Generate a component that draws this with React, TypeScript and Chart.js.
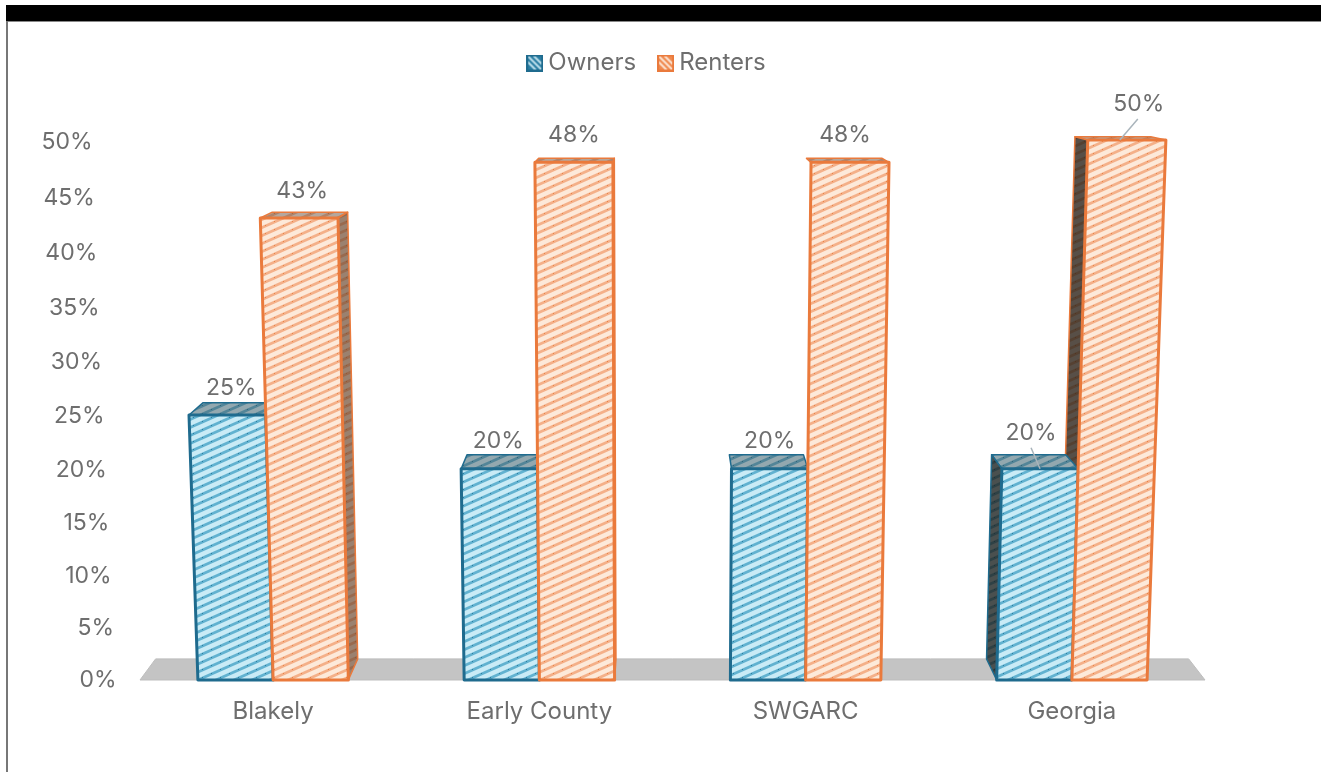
import React, { useEffect, useRef } from "react";
import { Chart, registerables } from "chart.js";

Chart.register(...registerables);

const categories = ["Blakely", "Early County", "SWGARC", "Georgia"];
const owners = [25, 20, 20, 20];
const renters = [43, 48, 48, 50];
const seriesNames = ["Owners", "Renters"];
const yTicks = [0, 5, 10, 15, 20, 25, 30, 35, 40, 45, 50];

const FONT = "Inter";
const TEXT = "#6e6e6e";
const OWNER_LINE = "#1f6b8e";
const RENTER_LINE = "#ea7a3c";
const FLOOR = "#c4c4c4";

// Label nudges from the top centre of each bar, [dx, dy]
const ownerNudge = [[4, -27], [-1, -28], [0, -28], [-9, -36]];
const renterNudge = [[3, -27], [0, -27], [-5, -27], [12, -36]];

function tile(bg: string, stripe: string, dot: string) {
  const w = 18, h = 8;
  const c = document.createElement("canvas");
  c.width = w; c.height = h;
  const g = c.getContext("2d")!;
  g.fillStyle = bg;
  g.fillRect(0, 0, w, h);
  g.strokeStyle = stripe;
  g.lineWidth = 2.8;
  for (let i = -1; i <= 1; i++) {
    g.beginPath();
    g.moveTo(-w, h * 2 + i * h);
    g.lineTo(w * 2, -h + i * h);
    g.stroke();
  }
  g.fillStyle = dot;
  g.fillRect(4, 5, 1, 1);
  g.fillRect(13, 1, 1, 1);
  return c;
}

function legendIcon(line: string, a: string, b: string) {
  const c = document.createElement("canvas");
  c.width = 17; c.height = 17;
  const g = c.getContext("2d")!;
  g.fillStyle = a;
  g.fillRect(0, 0, 17, 17);
  g.strokeStyle = b;
  g.lineWidth = 2;
  for (const o of [-6, 0, 6]) {
    g.beginPath();
    g.moveTo(o, 0);
    g.lineTo(17 + o, 17);
    g.stroke();
  }
  g.strokeStyle = line;
  g.lineWidth = 2;
  g.strokeRect(1, 1, 15, 15);
  return c;
}

const AREA = { left: 140, right: 1205, top: 140, bottom: 680 };
const VX = 660;

// Front-plane projection: the picture is a 3-D chart seen in perspective
function front(x: number, y: number): [number, number] {
  const t = (AREA.bottom - y) / (AREA.bottom - AREA.top);
  return [x + ((x - VX) * (AREA.bottom - y)) / 14000, y + 20 * t * (1 - t)];
}
function back(p: [number, number]): [number, number] {
  return [p[0] + (VX - p[0]) * 0.03, p[1] - (p[1] - 40) * 0.033];
}

function poly(ctx: CanvasRenderingContext2D, pts: [number, number][], fill: any, line: string, lw: number, shade?: string) {
  ctx.beginPath();
  pts.forEach((p, i) => (i ? ctx.lineTo(p[0], p[1]) : ctx.moveTo(p[0], p[1])));
  ctx.closePath();
  ctx.fillStyle = fill;
  ctx.fill();
  if (shade) {
    ctx.fillStyle = shade;
    ctx.fill();
  }
  ctx.lineJoin = "round";
  ctx.lineWidth = lw;
  ctx.strokeStyle = line;
  ctx.stroke();
}

const bars3d = {
  id: "bars3d",
  beforeLayout(chart: any) {
    const lg = chart.legend;
    if (lg.__patched) return;
    lg.__patched = true;
    const fit = lg.fit;
    lg.fit = function () {
      fit.call(this);
      this.height = 117;
    };
  },
  afterLayout(chart: any) {
    const lg = chart.legend;
    lg.left += 47;
    lg.right += 47;
  },
  beforeDraw(chart: any) {
    const { ctx } = chart;
    const y = chart.scales.y;
    // slanted value axis labels follow the 3-D wall
    for (const it of y.getLabelItems()) {
      if (it.__done) continue;
      it.__done = true;
      const py = it.options.translation[1];
      const t = (AREA.bottom - py) / (AREA.bottom - AREA.top);
      it.options.translation[0] = 116.5 - 24 * t;
      it.options.translation[1] = py + 20 * t * (1 - t) + t * 2.5;
    }
    // floor
    const a: [number, number] = [AREA.left, AREA.bottom];
    const b: [number, number] = [AREA.right, AREA.bottom];
    ctx.save();
    poly(ctx, [a, b, back(b), back(a)], FLOOR, "#bdbdbd", 1);
    ctx.restore();
  },
  beforeDatasetsDraw(chart: any) {
    const { ctx } = chart;
    const m0 = chart.getDatasetMeta(0).data;
    const m1 = chart.getDatasetMeta(1).data;
    const faces = (el: any) => {
      const p = el.getProps(["x", "y", "base", "width"], true);
      const l = p.x - p.width / 2, r = p.x + p.width / 2;
      const tl = front(l, p.y), tr = front(r, p.y), bl = front(l, p.base), br = front(r, p.base);
      return { tl, tr, bl, br, o: el.options };
    };
    const sides = (f: any) => {
      const { tl, tr, bl, br, o } = f;
      const line = o.borderColor;
      poly(ctx, [tl, tr, back(tr), back(tl)], o.backgroundColor, line, 1.5, "rgba(60,60,60,0.38)");
      if (tr[0] < VX) poly(ctx, [tr, br, back(br), back(tr)], o.backgroundColor, line, 1.5, "rgba(90,60,40,0.6)");
      if (tl[0] > VX + 300) poly(ctx, [tl, bl, back(bl), back(tl)], o.backgroundColor, line, 1.5, "rgba(30,25,20,0.74)");
    };
    const face = (f: any) => {
      const { tl, tr, bl, br, o } = f;
      poly(ctx, [tl, tr, br, bl], o.backgroundColor, o.borderColor, 3);
    };
    ctx.save();
    m0.forEach((el: any, i: number) => {
      const a = faces(el), b = faces(m1[i]);
      if (a.tl[0] < VX) {
        sides(a); face(a); sides(b); face(b);
      } else {
        sides(b); sides(a); face(a); face(b);
      }
    });
    ctx.restore();
  },
  beforeDatasetDraw() {
    return false;
  },
  afterDatasetsDraw(chart: any) {
    const { ctx } = chart;
    ctx.save();
    ctx.font = `23px ${FONT}`;
    ctx.fillStyle = TEXT;
    ctx.textAlign = "center";
    ctx.textBaseline = "middle";
    chart.data.datasets.forEach((ds: any, d: number) => {
      const nudges = d === 0 ? ownerNudge : renterNudge;
      chart.getDatasetMeta(d).data.forEach((el: any, i: number) => {
        const p = el.getProps(["x", "y"], true);
        const [cx, cy] = front(p.x, p.y);
        const [dx, dy] = nudges[i];
        ctx.fillText(`${ds.data[i]}%`, cx + dx, cy + dy);
        if (categories[i] === "Georgia") {
          ctx.strokeStyle = "#a9b4bb";
          ctx.lineWidth = 1.5;
          ctx.beginPath();
          ctx.moveTo(cx + dx + (d === 0 ? 0 : -1), cy + dy + 15);
          ctx.lineTo(cx + (d === 0 ? 0 : -7), cy);
          ctx.stroke();
        }
      });
    });
    ctx.restore();
  },
};

export default function App() {
  const ref = useRef<HTMLCanvasElement | null>(null);
  useEffect(() => {
    const ctx = ref.current!.getContext("2d")!;
    const ownerFill = ctx.createPattern(tile("#c9ebf6", "#62b2d0", "#2f7f9f"), "repeat")!;
    const renterFill = ctx.createPattern(tile("#fde9d9", "#f4b089", "#e8854a"), "repeat")!;
    const icons = [legendIcon(OWNER_LINE, "#2a7ea3", "#bfe0ec"), legendIcon(RENTER_LINE, "#f08a4f", "#fbe3d2")];
    const chart = new Chart(ctx, {
      type: "bar",
      data: {
        labels: categories,
        datasets: [
          { label: seriesNames[0], data: owners, backgroundColor: ownerFill, borderColor: OWNER_LINE, borderWidth: 2 },
          { label: seriesNames[1], data: renters, backgroundColor: renterFill, borderColor: RENTER_LINE, borderWidth: 2 },
        ],
      },
      options: {
        animation: false,
        responsive: false,
        devicePixelRatio: 1,
        layout: { padding: { left: 0, right: 116, top: 23, bottom: 0 } },
        datasets: { bar: { categoryPercentage: 0.565, barPercentage: 1 } },
        plugins: {
          tooltip: { enabled: false },
          title: { display: false },
          legend: {
            position: "top",
            align: "center",
            maxHeight: 140,
            labels: {
              usePointStyle: true,
              boxWidth: 3,
              boxHeight: 17,
              padding: 28,
              color: TEXT,
              font: { family: FONT, size: 24 },
              generateLabels: (c: any) =>
                Chart.defaults.plugins.legend.labels.generateLabels(c).map((l: any, i: number) => ({ ...l, pointStyle: icons[i] })),
            },
          } as any,
        },
        scales: {
          x: {
            grid: { display: false },
            border: { display: false },
            ticks: { color: TEXT, font: { family: FONT, size: 24 }, padding: 9, maxRotation: 0 },
            afterFit: (s: any) => { s.height = 92; },
          },
          y: {
            min: 0,
            max: 50,
            afterBuildTicks: (s: any) => { s.ticks = yTicks.map((value) => ({ value })); },
            grid: { display: false },
            border: { display: false },
            ticks: { color: TEXT, font: { family: FONT, size: 23 }, callback: (v: any) => `${v}%` },
            afterFit: (s: any) => { s.width = 140; },
          },
        },
      },
      plugins: [bars3d],
    } as any);
    return () => chart.destroy();
  }, []);
  return (
    <div style={{ position: "fixed", left: 0, top: 0, width: 1321, height: 772, background: "#fff", overflow: "hidden" }}>
      <canvas ref={ref} width={1321} height={772} style={{ position: "absolute", left: 0, top: 0, width: 1321, height: 772, filter: "blur(0.5px)" }} />
      <div style={{ position: "absolute", left: 6, top: 5, width: 1315, height: 16, background: "#000", borderBottom: "1px solid #888" }} />
      <div style={{ position: "absolute", left: 6, top: 21, width: 2, height: 751, background: "#777" }} />
    </div>
  );
}
